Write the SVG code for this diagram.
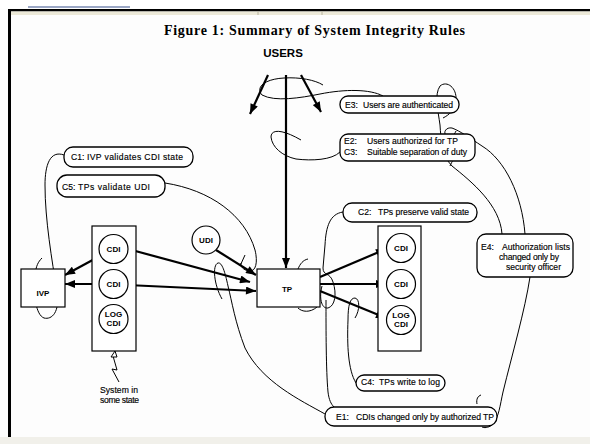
<svg xmlns="http://www.w3.org/2000/svg" width="590" height="444" viewBox="0 0 590 444">
<defs>
<marker id="ah" viewBox="0 0 10 8" refX="10" refY="4" markerWidth="11" markerHeight="8" orient="auto" markerUnits="userSpaceOnUse"><path d="M0,0 L10,4 L0,8 z" fill="#000"/></marker>
</defs>
<style>
.bg{fill:#fdfdfd}
.rule{fill:#fff;stroke:#000;stroke-width:1.3}
.box{fill:#fff;stroke:#000;stroke-width:1.2}
.circ{fill:#fff;stroke:#000;stroke-width:1.2}
.arr{stroke:#000;stroke-width:2.2;fill:none;marker-end:url(#ah)}
.cv{stroke:#000;stroke-width:1;fill:none}
.t{font-family:"Liberation Sans",Arial,sans-serif;font-size:8.6px;fill:#000;stroke:#000;stroke-width:0.15}
.c{font-family:"Liberation Sans",Arial,sans-serif;font-size:8px;font-weight:bold;fill:#000;text-anchor:middle}
.title{font-family:"Liberation Serif","Times New Roman",serif;font-size:14px;font-weight:bold;fill:#000}
</style>
<rect x="0" y="0" width="590" height="444" class="bg"/>
<rect x="0" y="0" width="590" height="9" fill="#fff"/>
<rect x="28" y="6" width="102" height="2" fill="#9aa6c4"/>
<rect x="8" y="9" width="582" height="2.5" fill="#000"/>
<rect x="11" y="11.5" width="579" height="3.5" fill="#ece9d8"/>
<line x1="258" y1="11.5" x2="258" y2="15" stroke="#b8b4a0" stroke-width="1"/>
<line x1="322" y1="11.5" x2="322" y2="15" stroke="#b8b4a0" stroke-width="1"/>
<rect x="8" y="9" width="3" height="428" fill="#000"/>
<rect x="0" y="437" width="590" height="7" fill="#f1f0ea"/>

<text class="title" x="164" y="35" textLength="301">Figure 1:  Summary of System Integrity Rules</text>

<g id="users"><text x="283" y="57" font-family="Liberation Sans,Arial,sans-serif" font-size="11.5" font-weight="bold" text-anchor="middle">USERS</text></g>

<g id="connectors">
<line class="arr" x1="268" y1="75" x2="250" y2="114"/>
<line class="arr" x1="301" y1="75" x2="321" y2="112"/>
<line class="arr" x1="286" y1="75" x2="286" y2="268"/>
<line class="arr" x1="216" y1="250" x2="256" y2="275"/>
<line class="arr" x1="128" y1="249" x2="250" y2="282"/>
<line class="arr" x1="127" y1="285" x2="256" y2="291"/>
<line class="arr" x1="100" y1="256" x2="65" y2="275"/>
<line class="arr" x1="99" y1="284" x2="65" y2="284"/>
<line class="arr" x1="320" y1="277" x2="386" y2="249"/>
<line class="arr" x1="320" y1="284" x2="386" y2="284"/>
<line class="arr" x1="320" y1="291" x2="386" y2="318"/>
<path class="cv" d="M383,96 C370,89 345,89 320,94 C300,98 275,102 262,95 C255,87 265,79 284,78 C300,77 315,80 323,85"/>
<path class="cv" d="M340,152 C332,160 312,161 296,159 C282,156 272,147 271,137 C271,129 282,129 301,140"/>
<path class="cv" d="M64,155 C50,150 45,165 45,185 C45,220 52,260 57,292 C60,312 52,320 44,318 C36,315 33,295 35,275 C36,266 38,262 42,258"/>
<path class="cv" d="M165,183 C210,190 245,215 255,250 C258,262 256,272 249,271 C243,270 240,266 241,263"/>
<path class="cv" d="M240,266 L245,255"/>
<path class="cv" d="M325,414 C300,400 262,382 245,348 C235,322 232,302 228,286 C225,272 222,262 218,263 C212,265 214,285 222,299"/>
<path class="cv" d="M343,212 C330,214 326,226 325,245 L323,268 C323,276 330,272 333,282 C337,294 335,306 328,308 C321,309 319,297 322,286"/>
<path class="cv" d="M326,300 C326,330 326,370 328,392 C329,400 331,404 334,407"/>
<path class="cv" d="M298,269 C300,264 303,260 308,259"/>
<path class="cv" d="M298,308 C302,312 310,313 317,307"/>
<path class="cv" d="M356,383 C348,370 347,345 348,320 C348,305 350,298 355,298 C360,299 360,310 355,318"/>
<path class="cv" d="M530,277 C525,310 512,355 503,392 C500,405 499,418 492,425 C488,428 484,428 482,427"/>
<path class="cv" d="M477,404 C476,399 478,396 481,395"/>
<path class="cv" d="M502,234 C500,205 472,182 452,166 C442,156 441,140 440,125 C438,110 434,95 440,86 C447,80 457,88 456,100 C455,110 449,115 443,118"/>
<path class="cv" d="M525,234 C522,195 505,160 482,146 C470,138 460,131 452,128 C446,127 443,132 446,136 C449,139 454,136 456,131"/>
<path class="cv" d="M450,166 C452,161 454,159 456,159"/>
<path class="cv" d="M119,382 L112,369 L117,370 L113,356"/>
<path d="M115,351 L111,357 L117,357 z" fill="#fff" stroke="#000" stroke-width="1"/>
</g>

<g id="c1"><rect class="rule" x="64" y="147" width="129" height="20" rx="9"/><text class="t" y="160"><tspan x="71">C1:</tspan><tspan x="87" textLength="96">IVP validates CDI state</tspan></text></g>
<g id="c5"><rect class="rule" x="57" y="175" width="108" height="22" rx="10"/><text class="t" y="190"><tspan x="62">C5:</tspan><tspan x="78" textLength="72">TPs validate UDI</tspan></text></g>
<g id="e3"><rect class="rule" x="340" y="96" width="119" height="17" rx="8"/><text class="t" y="108"><tspan x="345">E3:</tspan><tspan x="363" textLength="90">Users are authenticated</tspan></text></g>
<g id="e2c3"><rect class="rule" x="340" y="134" width="135" height="27" rx="8"/><text class="t" y="144"><tspan x="344">E2:</tspan><tspan x="367" textLength="91">Users authorized for TP</tspan></text><text class="t" y="155"><tspan x="344">C3:</tspan><tspan x="367" textLength="100">Suitable separation of duty</tspan></text></g>
<g id="c2"><rect class="rule" x="343" y="203" width="134" height="19" rx="9"/><text class="t" y="215"><tspan x="358">C2:</tspan><tspan x="378" textLength="91">TPs preserve valid state</tspan></text></g>
<g id="e4"><rect class="rule" x="477" y="234" width="96" height="43" rx="9"/><text class="t" y="250"><tspan x="481">E4:</tspan><tspan x="502" textLength="68">Authorization lists</tspan></text><text class="t" x="499" y="260" textLength="60">changed only by</text><text class="t" x="506" y="270" textLength="55">security officer</text></g>
<g id="c4"><rect class="rule" x="356" y="375" width="89" height="16" rx="8"/><text class="t" y="385"><tspan x="361">C4:</tspan><tspan x="379" textLength="61">TPs write to log</tspan></text></g>
<g id="e1"><rect class="rule" x="325" y="407" width="172" height="19" rx="9"/><text class="t" y="420"><tspan x="336">E1:</tspan><tspan x="356" textLength="138">CDIs changed only by authorized TP</tspan></text></g>

<g id="system-label"><text class="t" x="100" y="393" textLength="38">System in</text><text class="t" x="100" y="403" textLength="39">some state</text></g>

<g id="ivp"><rect class="box" x="21" y="269" width="44" height="38"/><text class="c" x="43" y="296" font-size="7.5">IVP</text></g>
<g id="left-system"><rect class="box" x="92" y="226" width="44" height="125"/></g>
<g id="cdi-l1"><circle class="circ" cx="113.5" cy="249" r="14.5"/><text class="c" x="113.5" y="252">CDI</text></g>
<g id="cdi-l2"><circle class="circ" cx="113.5" cy="284" r="14.5"/><text class="c" x="113.5" y="287">CDI</text></g>
<g id="logcdi-l"><circle class="circ" cx="113.5" cy="319" r="14.5"/><text class="c" x="113.5" y="317" font-size="7.5">LOG</text><text class="c" x="113.5" y="326" font-size="7.5">CDI</text></g>
<g id="udi"><circle class="circ" cx="206" cy="240" r="14"/><text class="c" x="206" y="243">UDI</text></g>
<g id="tp"><rect class="box" x="257" y="269" width="63" height="38"/><text class="c" x="287" y="292" font-size="10.5">TP</text></g>
<g id="right-system"><rect class="box" x="378" y="226" width="43" height="125"/></g>
<g id="cdi-r1"><circle class="circ" cx="401" cy="248" r="14.5"/><text class="c" x="401" y="251">CDI</text></g>
<g id="cdi-r2"><circle class="circ" cx="401" cy="284" r="14.5"/><text class="c" x="401" y="287">CDI</text></g>
<g id="logcdi-r"><circle class="circ" cx="401" cy="320" r="14.5"/><text class="c" x="401" y="318" font-size="7.5">LOG</text><text class="c" x="401" y="327" font-size="7.5">CDI</text></g>
</svg>
